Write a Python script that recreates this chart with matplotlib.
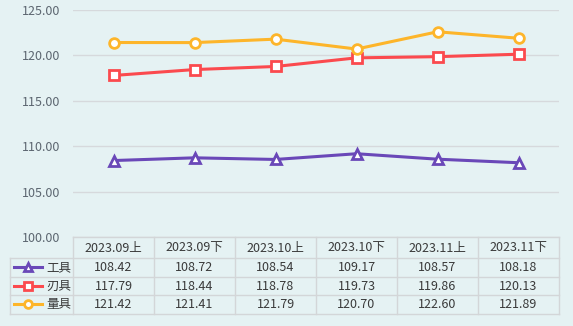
import matplotlib.pyplot as plt
from matplotlib.lines import Line2D

plt.rcParams['font.family'] = ['Noto Sans CJK SC', 'DejaVu Sans']

# data
categories = ['2023.09上', '2023.09下', '2023.10上', '2023.10下', '2023.11上', '2023.11下']
series_names = ['工具', '刃具', '量具']
tools = [108.42, 108.72, 108.54, 109.17, 108.57, 108.18]
blades = [117.79, 118.44, 118.78, 119.73, 119.86, 120.13]
gauges = [121.42, 121.41, 121.79, 120.70, 122.60, 121.89]
y_ticks = [100, 105, 110, 115, 120, 125]

colors = ['#6A48B8', '#FB4A4E', '#FDB52A']
markers = ['^', 's', 'o']
msizes = [6.5, 7.5, 7]
bg = '#E5F2F3'
grid_c = '#D6D9DC'
txt_c = '#3A3A3A'

fig = plt.figure(figsize=(5.73, 3.26), dpi=100)
fig.patch.set_facecolor(bg)

W, H = 573, 326
left, right, top, bottom = 73, 559, 10, 237
ax = fig.add_axes([left / W, 1 - bottom / H, (right - left) / W, (bottom - top) / H])
ax.set_facecolor(bg)

x = list(range(len(categories)))
for vals, c, m, ms in zip([tools, blades, gauges], colors, markers, msizes):
    ax.plot(x, vals, color=c, lw=2.2, marker=m, ms=ms, mfc='white', mec=c, mew=2, zorder=3)

ax.set_xlim(-0.5, len(categories) - 0.5)
ax.set_ylim(100, 125)
ax.set_yticks(y_ticks)
ax.set_yticklabels([f'{v:.2f}' for v in y_ticks])
ax.tick_params(axis='y', length=0, pad=9, labelsize=9, labelcolor='#5C6670')
ax.set_xticks([])
ax.grid(axis='y', color=grid_c, lw=1)
for s in ax.spines.values():
    s.set_visible(False)

# table drawn in pixel space
ov = fig.add_axes([0, 0, 1, 1], facecolor='none')
ov.set_xlim(0, W)
ov.set_ylim(H, 0)
ov.axis('off')

col_w = (right - left) / len(categories)
row_y = [237, 258, 276.5, 295, 313.5]
lab_x0 = 10
lc = '#D3D6D8'

# horizontal lines
ov.plot([left, right], [row_y[0], row_y[0]], color=lc, lw=1)
for yy in row_y[1:]:
    ov.plot([lab_x0, right], [yy, yy], color=lc, lw=1)
# vertical lines
ov.plot([lab_x0, lab_x0], [row_y[1], row_y[-1]], color=lc, lw=1)
for i in range(len(categories) + 1):
    xx = left + i * col_w
    ov.plot([xx, xx], [row_y[0], row_y[-1]], color=lc, lw=1)

for i, cat in enumerate(categories):
    ov.text(left + (i + 0.5) * col_w, (row_y[0] + row_y[1]) / 2 + 0.5, cat,
            ha='center', va='center', fontsize=9, color=txt_c)

for r, (name, vals, c, m, ms) in enumerate(zip(series_names, [tools, blades, gauges], colors, markers, msizes)):
    yc = (row_y[r + 1] + row_y[r + 2]) / 2
    ov.add_line(Line2D([14, 42], [yc, yc], color=c, lw=2.2))
    ov.add_line(Line2D([28], [yc], marker=m, ms=ms * 0.8, mfc='white', mec=c, mew=2, color=c))
    ov.text(46, yc + 0.5, name, ha='left', va='center', fontsize=9, color=txt_c)
    for i, v in enumerate(vals):
        ov.text(left + (i + 0.5) * col_w, yc + 0.5, f'{v:.2f}',
                ha='center', va='center', fontsize=9, color=txt_c)

fig.savefig('out.png', dpi=100, facecolor=bg)
